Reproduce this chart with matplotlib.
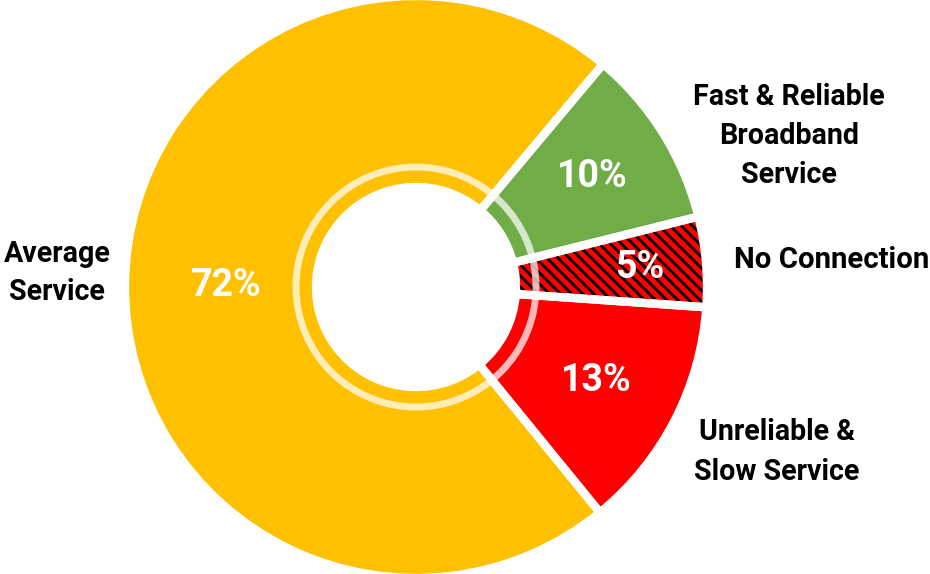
import numpy as np
import matplotlib.pyplot as plt
from matplotlib.patches import Circle

plt.rcParams['font.family'] = ['Roboto', 'DejaVu Sans']
plt.rcParams['hatch.linewidth'] = 2.0

# data
categories = ['Fast & Reliable\nBroadband\nService', 'No Connection',
              'Unreliable &\nSlow Service', 'Average\nService']
shares = [10, 5, 13, 72]
colors = ['#70AD47', '#FF0000', '#FF0000', '#FFC000']
hatches = [None, '\\\\\\', None, None]

W, H = 930, 574
cx, cy, R, r_in = 416, 287, 291, 100

fig = plt.figure(figsize=(W / 100, H / 100), dpi=100)
ax = fig.add_axes([0, 0, 1, 1])

# fill
wedges, _ = ax.pie(shares, colors=colors, startangle=50, counterclock=False,
                   center=(cx, cy), radius=R, frame=True,
                   wedgeprops=dict(width=R - r_in, linewidth=0, edgecolor='black'))
for w, h in zip(wedges, hatches):
    if h:
        w.set_hatch(h)
    w.set_zorder(1)

# faint inner ring
ax.add_patch(Circle((cx, cy), 120, fill=False, edgecolor='white', alpha=0.72,
                    linewidth=5, zorder=2))

# white separators
sep, _ = ax.pie(shares, colors=['none'] * 4, startangle=50, counterclock=False,
                center=(cx, cy), radius=R, frame=True,
                wedgeprops=dict(width=R - r_in, linewidth=6, edgecolor='white'))
for w in sep:
    w.set_zorder(3)
ax.set_xlim(0, W)
ax.set_ylim(0, H)
ax.set_aspect('equal')
ax.axis('off')

# percent labels
label_r = [208, 225, 203, 190]
for w, v, lr in zip(wedges, shares, label_r):
    mid = np.deg2rad((w.theta1 + w.theta2) / 2)
    ax.text(cx + lr * np.cos(mid), cy + lr * np.sin(mid), f'{v}%',
            color='white', fontsize=27, fontweight='bold',
            ha='center', va='center', zorder=4)

# category labels
lab_kw = dict(fontsize=20.6, fontweight='bold', color='black', linespacing=1.5, va='center')
ax.text(789, 438, categories[0], ha='center', **lab_kw)
ax.text(734, 314, categories[1], ha='left', fontsize=21.2,
        fontweight='bold', color='black', va='center')
ax.text(777, 122, categories[2], ha='center', **lab_kw)
ax.text(57, 301, categories[3], ha='center', **lab_kw)

fig.savefig('out.png', dpi=100)
